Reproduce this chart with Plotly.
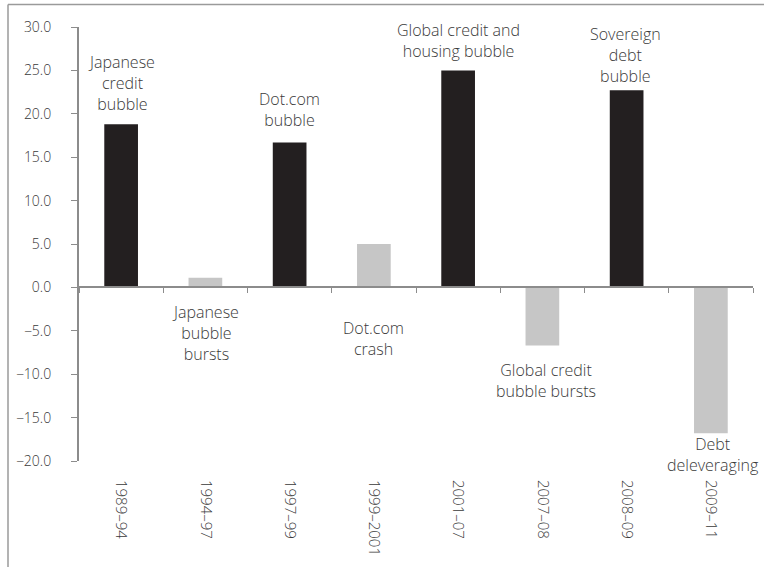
import plotly.graph_objects as go

# Periods and the change measured in each one
periods = ["1989–94", "1994–97", "1997–99", "1999–2001",
           "2001–07", "2007–08", "2008–09", "2009–11"]
changes = [18.8, 1.1, 16.7, 5.0, 25.0, -6.7, 22.7, -16.8]
phase = ["bubble", "burst", "bubble", "burst",
         "bubble", "burst", "bubble", "burst"]

# Text describing each period
period_notes = [
    ["Japanese", "credit", "bubble"],
    ["Japanese", "bubble", "bursts"],
    ["Dot.com", "bubble"],
    ["Dot.com", "crash"],
    ["Global credit and", "housing bubble"],
    ["Global credit", "bubble bursts"],
    ["Sovereign", "debt", "bubble"],
    ["Debt", "deleveraging"],
]

y_ticks = [30, 25, 20, 15, 10, 5, 0, -5, -10, -15, -20]

# ---- styling ----
FONT = "Open Sans"
TEXT_COLOR = "#3a3a3a"
AXIS_COLOR = "#8c8c8c"
phase_colors = {"bubble": "#231f20", "burst": "#c6c6c6"}

# vertical centre (data units) of each note block, and horizontal nudge (px)
note_y = [23.6, -5.3, 20.5, -5.85, 28.45, -10.75, 26.75, -19.3]
note_xshift = [0, 0, 0, 0, 0, 4, -1, 2]

fig = go.Figure()

fig.add_trace(go.Bar(
    x=periods,
    y=changes,
    width=0.4,
    marker=dict(color=[phase_colors[p] for p in phase], line=dict(width=0)),
    hoverinfo="x+y",
    showlegend=False,
))

# helper trace that gives the zero-line axis its categories
fig.add_trace(go.Scatter(
    x=periods,
    y=[0] * len(periods),
    xaxis="x2",
    mode="markers",
    marker=dict(size=1, opacity=0),
    hoverinfo="skip",
    showlegend=False,
))

annotations = []
for i, lines in enumerate(period_notes):
    annotations.append(dict(
        x=i, y=note_y[i], xref="x", yref="y",
        text="<br>".join(lines), showarrow=False,
        xanchor="center", yanchor="middle", align="center",
        xshift=note_xshift[i],
        font=dict(family=FONT, size=16, color=TEXT_COLOR, weight=300),
    ))

# plot-area geometry used for the outer frame lines
plot_left, plot_width = 79, 674
plot_bottom, plot_height = 461, 434


def px_x(px):
    return (px - plot_left) / plot_width


def px_y(py):
    return (plot_bottom - py) / plot_height


frame = dict(color="#9a9a9a", width=1.5)
shapes = [
    dict(type="line", xref="paper", yref="paper",
         x0=px_x(8), x1=px_x(770), y0=px_y(4.5), y1=px_y(4.5), line=frame),
    dict(type="line", xref="paper", yref="paper",
         x0=px_x(8), x1=px_x(8), y0=px_y(4.5), y1=px_y(570), line=frame),
]

fig.update_layout(
    width=764,
    height=567,
    margin=dict(l=79, r=11, t=27, b=106),
    paper_bgcolor="white",
    plot_bgcolor="white",
    font=dict(family=FONT, color=TEXT_COLOR, weight=300),
    bargap=0.6,
    xaxis=dict(
        type="category",
        categoryorder="array",
        categoryarray=periods,
        range=[-0.5, len(periods) - 0.5],
        showline=False,
        showgrid=False,
        zeroline=False,
        ticks="",
        tickangle=90,
        ticklabelstandoff=18,
        tickfont=dict(family=FONT, size=15, color=TEXT_COLOR, weight=300),
    ),
    xaxis2=dict(
        type="category",
        categoryorder="array",
        categoryarray=periods,
        matches="x",
        overlaying="x",
        anchor="free",
        position=0.4,
        side="bottom",
        showline=True,
        linecolor=AXIS_COLOR,
        linewidth=2,
        showgrid=False,
        zeroline=False,
        ticks="outside",
        tickson="boundaries",
        ticklen=5,
        tickwidth=1,
        tickcolor=AXIS_COLOR,
        showticklabels=False,
    ),
    yaxis=dict(
        range=[-20, 30],
        tickvals=y_ticks,
        tickformat=".1f",
        showline=True,
        linecolor=AXIS_COLOR,
        linewidth=2,
        showgrid=False,
        zeroline=False,
        ticks="outside",
        ticklen=6,
        tickwidth=1,
        tickcolor=AXIS_COLOR,
        ticklabelstandoff=17,
        tickfont=dict(family=FONT, size=14, color=TEXT_COLOR, weight=300),
    ),
    annotations=annotations,
    shapes=shapes,
)

fig.write_html("out.html")
